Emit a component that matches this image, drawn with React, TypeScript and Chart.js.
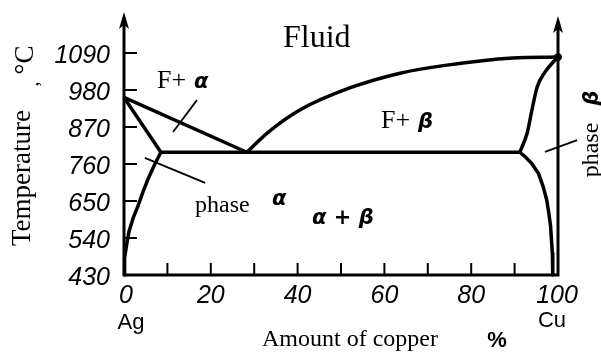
import React, { useEffect, useRef } from 'react';
import { Chart, registerables } from 'chart.js';

Chart.register(...registerables);

// Temperature (°C) tick values and copper (%) ticks
const temperatureTicks = [430, 540, 650, 760, 870, 980, 1090];
const copperMinorTicks = [10, 20, 30, 40, 50, 60, 70, 80, 90];
const copperLabelValues = [0, 20, 40, 60, 80, 100];

// Phase boundary curves (x = % Cu, y = °C), ordered by increasing copper
const liquidusLeftX = [0, 28.3];
const liquidusLeftT = [958, 795];
const solidusLeftX = [0, 8.5];
const solidusLeftT = [958, 795];
const solvusLeftX = [0, 0.05, 0.23, 0.6, 1.15, 2.1, 3.3, 4.4, 5.6, 7.0, 8.5];
const solvusLeftT = [430, 470, 481, 519, 559, 599, 638, 678, 717, 757, 795];
const eutecticX = [8.5, 91.2];
const eutecticT = [795, 795];
const liquidusRightX = [28.3, 33, 40.6, 52, 63.6, 74.4, 89.6, 100];
const liquidusRightT = [795, 852, 921, 986, 1030, 1054, 1075, 1078];
const solidusRightX = [91.2, 92.9, 94.0, 95.2, 97.0, 99.3, 100];
const solidusRightT = [795, 852, 921, 989, 1033, 1069, 1078];
const solvusRightX = [91.2, 92.4, 93.9, 95.5, 96.6, 97.4, 97.9, 98.3, 98.5, 98.7, 98.8];
const solvusRightT = [795, 782, 762, 732, 692, 653, 613, 574, 534, 495, 430];

// Label pointer lines
const pointerFAlphaX = [11.3, 16.8];
const pointerFAlphaT = [855, 950];
const pointerAlphaX = [4.8, 18.7];
const pointerAlphaT = [778, 704];
const pointerBetaX = [97, 104.4];
const pointerBetaT = [796, 831];

const cuMeltX = [100];
const cuMeltT = [1078];

const pts = (xs: number[], ts: number[]) => xs.map((x, i) => ({ x, y: ts[i] }));

const SERIF = '"Liberation Serif", "Times New Roman", serif';
const SANS = '"Liberation Sans", Arial, sans-serif';
const GREEK = '"DejaVu Sans", sans-serif';

const decorPlugin = {
  id: 'decor',
  afterDatasetsDraw(chart: any) {
    const ctx = chart.ctx as CanvasRenderingContext2D;
    const xs = chart.scales.x;
    const ys = chart.scales.y;
    const X = (v: number) => xs.getPixelForValue(v);
    const Y = (v: number) => ys.getPixelForValue(v);
    ctx.save();
    ctx.strokeStyle = '#000';
    ctx.fillStyle = '#000';
    ctx.lineCap = 'butt';

    const x0 = X(0), x100 = X(100), yb = Y(430);
    // axes
    ctx.lineWidth = 3;
    ctx.beginPath();
    ctx.moveTo(x0, yb + 1);
    ctx.lineTo(x0, 24);
    ctx.moveTo(x0 - 1.5, yb);
    ctx.lineTo(x100 + 1.5, yb);
    ctx.moveTo(x100, yb + 1);
    ctx.lineTo(x100, 28);
    ctx.stroke();
    // arrows
    const arrow = (x: number, tip: number) => {
      ctx.beginPath();
      ctx.moveTo(x, tip);
      ctx.lineTo(x - 5, tip + 17);
      ctx.lineTo(x, tip + 13);
      ctx.lineTo(x + 5, tip + 17);
      ctx.closePath();
      ctx.fill();
    };
    arrow(x0, 12);
    arrow(x100, 16);

    // tick marks
    ctx.lineWidth = 2;
    ctx.beginPath();
    temperatureTicks.forEach((t) => {
      if (t === 430) return;
      ctx.moveTo(x0, Y(t));
      ctx.lineTo(x0 + 13, Y(t));
    });
    copperMinorTicks.forEach((c) => {
      ctx.moveTo(X(c), yb);
      ctx.lineTo(X(c), yb - 12);
    });
    ctx.stroke();

    // y tick labels
    ctx.font = 'italic 25px ' + SANS;
    ctx.textAlign = 'right';
    ctx.textBaseline = 'middle';
    temperatureTicks.forEach((t) => {
      ctx.fillText(String(t), 110, Y(t) + 3);
    });
    // x tick labels
    ctx.textAlign = 'center';
    copperLabelValues.forEach((c) => {
      ctx.fillText(String(c), X(c) + (c === 0 ? 2 : c === 100 ? -1 : 0), 296);
    });
    ctx.font = '22px ' + SANS;
    ctx.fillText('Ag', 131, 323);
    ctx.fillText('Cu', 552, 321);

    // axis titles
    ctx.font = '24px ' + SERIF;
    ctx.textBaseline = 'alphabetic';
    ctx.fillText('Amount of copper', 350, 346);
    ctx.font = 'bold 22px ' + SANS;
    ctx.fillText('%', 497, 347);

    ctx.save();
    ctx.translate(30, 178);
    ctx.rotate(-Math.PI / 2);
    ctx.font = '27px ' + SERIF;
    ctx.textAlign = 'center';
    ctx.fillText('Temperature', 0, 0);
    ctx.restore();
    ctx.save();
    ctx.translate(33, 60);
    ctx.rotate(-Math.PI / 2);
    ctx.font = '27px ' + SERIF;
    ctx.textAlign = 'center';
    ctx.fillText('°C', 0, 0);
    ctx.restore();
    ctx.save();
    ctx.translate(38, 84);
    ctx.rotate(-Math.PI / 2);
    ctx.font = '20px ' + SERIF;
    ctx.textAlign = 'center';
    ctx.fillText(',', 0, 0);
    ctx.restore();

    // region labels
    ctx.textAlign = 'left';
    ctx.font = '32px ' + SERIF;
    ctx.fillText('Fluid', 283, 47);

    ctx.font = '26px ' + SERIF;
    ctx.fillText('F+', 157, 88);
    ctx.fillText('F+', 381, 128);
    ctx.font = '24px ' + SERIF;
    ctx.fillText('phase', 195, 212);

    ctx.font = 'italic bold 21px ' + GREEK;
    ctx.fillText('α', 194, 88);
    ctx.fillText('β', 418, 128);
    ctx.fillText('α', 272, 205);
    ctx.fillText('α + β', 312, 224);

    ctx.save();
    ctx.translate(598, 142);
    ctx.rotate(-Math.PI / 2);
    ctx.textAlign = 'center';
    ctx.font = '24px ' + SERIF;
    ctx.fillText('phase', -8, 0);
    ctx.font = 'italic bold 21px ' + GREEK;
    ctx.fillText('β', 44, 0);
    ctx.restore();

    ctx.restore();
  },
};

export default function App() {
  const ref = useRef<HTMLCanvasElement | null>(null);
  useEffect(() => {
    if (!ref.current) return;
    const thick = (xs: number[], ts: number[], curved = false) => ({
      data: pts(xs, ts),
      showLine: true,
      borderColor: '#000',
      backgroundColor: '#000',
      borderWidth: 3.5,
      borderJoinStyle: 'round',
      pointRadius: 0,
      tension: 0,
      cubicInterpolationMode: curved ? 'monotone' : 'default',
      clip: false as any,
    });
    const thin = (xs: number[], ts: number[]) => ({
      data: pts(xs, ts),
      showLine: true,
      borderColor: '#000',
      borderWidth: 1.8,
      pointRadius: 0,
      tension: 0,
      clip: false as any,
    });
    const chart = new Chart(ref.current, {
      type: 'scatter',
      data: {
        datasets: [
          thick(liquidusLeftX, liquidusLeftT),
          thick(solidusLeftX, solidusLeftT),
          thick(solvusLeftX, solvusLeftT),
          thick(eutecticX, eutecticT),
          thick(liquidusRightX, liquidusRightT, true),
          thick(solidusRightX, solidusRightT, true),
          thick(solvusRightX, solvusRightT),
          thin(pointerFAlphaX, pointerFAlphaT),
          thin(pointerAlphaX, pointerAlphaT),
          thin(pointerBetaX, pointerBetaT),
          {
            data: pts(cuMeltX, cuMeltT),
            pointRadius: 3.5,
            backgroundColor: '#000',
            borderColor: '#000',
            clip: false as any,
          },
        ] as any,
      },
      options: {
        animation: false,
        responsive: false,
        maintainAspectRatio: false,
        events: [],
        layout: { padding: { left: 124, right: 43, top: 53, bottom: 83 } },
        plugins: { legend: { display: false }, tooltip: { enabled: false } },
        scales: {
          x: { type: 'linear', min: 0, max: 100, display: false },
          y: { type: 'linear', min: 430, max: 1090, display: false },
        },
      },
      plugins: [decorPlugin],
    });
    return () => chart.destroy();
  }, []);
  return (
    <div style={{ position: 'fixed', left: 0, top: 0, width: 601, height: 358, background: '#fff' }}>
      <canvas ref={ref} width={601} height={358} style={{ width: 601, height: 358, display: 'block' }} />
    </div>
  );
}
